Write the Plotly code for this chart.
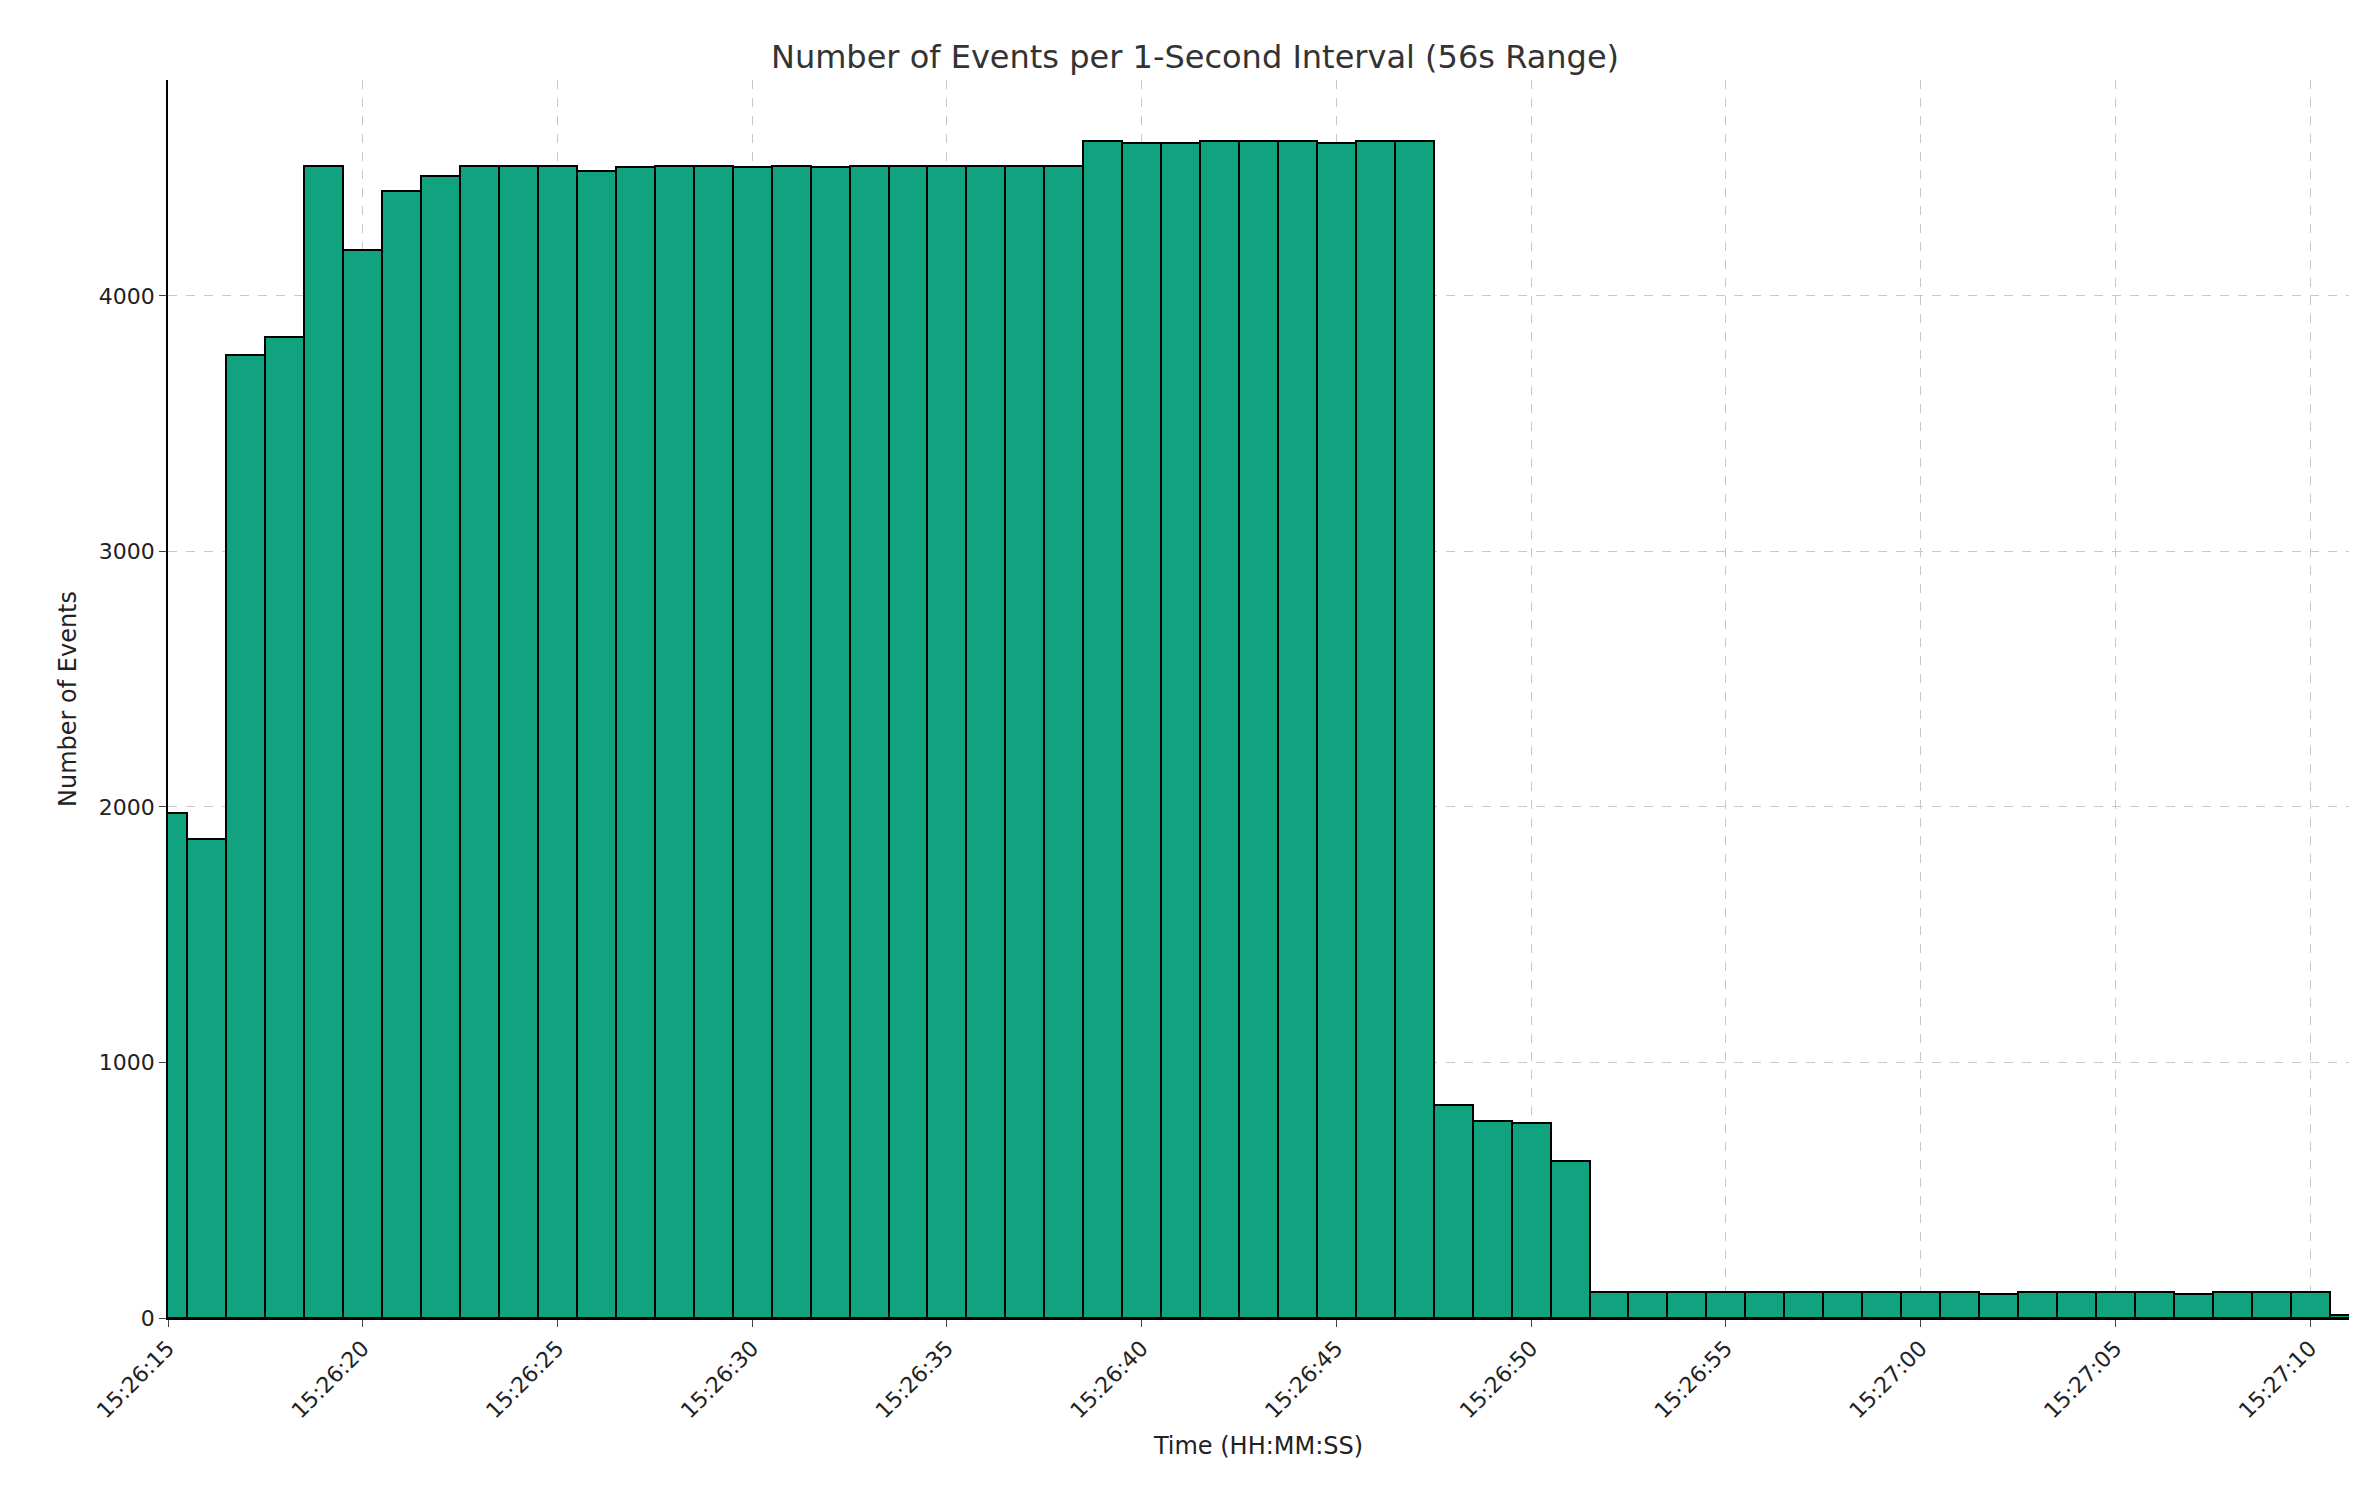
import plotly.graph_objects as go
import pandas as pd

start = "2024-01-01 15:26:15"
counts = [1975,1875,3770,3840,4510,4180,4410,4470,4510,4510,4510,4490,4505,4510,4510,4505,4510,4505,4510,4510,4510,4510,4510,4510,
          4605,4600,4600,4605,4605,4605,4600,4605,4605,
          835,770,765,615,
          100,100,100,100,100,100,100,100,100,100,95,100,100,100,100,95,100,100,100,
          10]
times = pd.date_range(start, periods=len(counts), freq="1s")
ticks = pd.date_range(start, periods=12, freq="5s")
tick_labels = [t.strftime("%H:%M:%S") for t in ticks]

fig = go.Figure(go.Bar(x=times, y=counts, width=1000, marker=dict(color="#11a37f", line=dict(color="black", width=2))))
fig.update_layout(
    width=2374, height=1506, plot_bgcolor="white", paper_bgcolor="white",
    margin=dict(l=160, r=33, t=72, b=196), bargap=0, showlegend=False,
    font=dict(family="DejaVu Sans", size=22, color="#222"),
    title=dict(text="Number of Events per 1-Second Interval (56s Range)", x=0.5, xanchor="center", y=0.975, font=dict(size=32, color="#333")),
)
fig.update_xaxes(range=[pd.Timestamp(start), pd.Timestamp(start) + pd.Timedelta(seconds=56)],
                 tickvals=ticks, ticktext=tick_labels, tickangle=-45, ticks="outside", ticklen=7,
                 showgrid=True, gridcolor="#c8c8c8", griddash="dash", showline=True, linecolor="black", linewidth=1.5,
                 title=dict(text="Time (HH:MM:SS)", font=dict(size=24)), tickfont=dict(size=22))
fig.update_yaxes(range=[0, 4845], tickvals=[0,1000,2000,3000,4000], ticks="outside", ticklen=7,
                 showgrid=True, gridcolor="#c8c8c8", griddash="dash", showline=True, linecolor="black", linewidth=1.5,
                 zeroline=False, title=dict(text="Number of Events", font=dict(size=24)), tickfont=dict(size=22))
fig.write_html("out.html")
